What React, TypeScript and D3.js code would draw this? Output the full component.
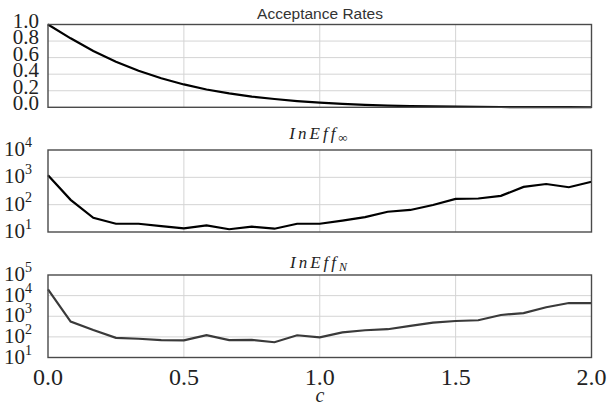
import React from "react";
import * as d3 from "d3";

const cValues = [0, 0.0833, 0.1667, 0.25, 0.3333, 0.4167, 0.5, 0.5833, 0.6667, 0.75, 0.8333, 0.9167, 1.0, 1.0833, 1.1667, 1.25, 1.3333, 1.4167, 1.5, 1.5833, 1.6667, 1.75, 1.8333, 1.9167, 2.0];
const acceptance = [1.0, 0.833, 0.68, 0.551, 0.442, 0.35, 0.276, 0.215, 0.168, 0.13, 0.1, 0.075, 0.056, 0.041, 0.03, 0.021, 0.015, 0.01, 0.007, 0.005, 0.0035, 0.0024, 0.0016, 0.001, 0.0007];
const ineffInf = [1200, 150, 33, 20, 20, 16.5, 13.6, 17.5, 12.6, 15.7, 13.2, 20, 20, 26, 35, 55, 64, 97, 162, 168, 210, 445, 570, 435, 690];
const ineffN = [20000, 550, 215, 90, 81, 70, 68, 120, 70, 72, 55, 120, 95, 166, 210, 235, 340, 490, 590, 640, 1150, 1430, 2720, 4400, 4300];

const xTicks = [0, 0.5, 1.0, 1.5, 2.0];
const accTicks = [0, 0.2, 0.4, 0.6, 0.8, 1.0];
const infTicks = [1, 2, 3, 4];
const nTicks = [1, 2, 3, 4, 5];

const W = 607, H = 408;
const L = 48, R = 591.5;
const serif = "'Liberation Serif', 'Times New Roman', serif";
const sans = "'Liberation Sans', Arial, sans-serif";

export default function App() {
  const x = d3.scaleLinear().domain([0, 2]).range([L, R]);
  const yA = d3.scaleLinear().domain([0, 1]).range([107.3, 24.5]);
  const yI = d3.scaleLog().domain([10, 1e4]).range([232, 150]);
  const yN = d3.scaleLog().domain([10, 1e5]).range([357.5, 275]);

  const lineA = d3.line<number>().x((_, i) => x(cValues[i])).y((d) => yA(d));
  const lineI = d3.line<number>().x((_, i) => x(cValues[i])).y((d) => yI(d));
  const lineN = d3.line<number>().x((_, i) => x(cValues[i])).y((d) => yN(d));

  const grid = "#d4d4d4";
  const frame = "#4a4a4a";

  const vgrid = (y0: number, y1: number) =>
    xTicks.slice(1, -1).map((t) => (
      <line key={"v" + t} x1={x(t)} x2={x(t)} y1={y0} y2={y1} stroke={grid} strokeWidth={1} />
    ));

  const panelFrame = (y0: number, y1: number) => (
    <rect x={L} y={y1} width={R - L} height={y0 - y1} fill="none" stroke={frame} strokeWidth={1.4} />
  );

  return (
    <svg width={W} height={H} style={{ position: "absolute", left: 0, top: 0, background: "#fff" }}>
      {/* Top panel */}
      <text x={320} y={19} textAnchor="middle" fontFamily={sans} fontSize={15.5} fill="#333">Acceptance Rates</text>
      {accTicks.slice(1, -1).map((t) => (
        <line key={"ha" + t} x1={L} x2={R} y1={yA(t)} y2={yA(t)} stroke={grid} strokeWidth={1} />
      ))}
      {vgrid(107.3, 24.5)}
      <path d={lineA(acceptance) || ""} fill="none" stroke="#000" strokeWidth={2.2} />
      {panelFrame(107.3, 24.5)}
      {accTicks.map((t) => (
        <text key={"la" + t} x={39} y={yA(t) + 3} textAnchor="end" fontFamily={serif} fontSize={21} fill="#222">{t.toFixed(1)}</text>
      ))}

      {/* Middle panel */}
      <text x={320} y={139} textAnchor="middle" fontFamily={serif} fontStyle="italic" fontSize={17} fill="#222" letterSpacing={3}>
        InEff<tspan fontSize={13} dy={3} fontStyle="normal">∞</tspan>
      </text>
      {infTicks.slice(1, -1).map((t) => (
        <line key={"hi" + t} x1={L} x2={R} y1={yI(Math.pow(10, t))} y2={yI(Math.pow(10, t))} stroke={grid} strokeWidth={1} />
      ))}
      {vgrid(232, 150)}
      <path d={lineI(ineffInf) || ""} fill="none" stroke="#000" strokeWidth={2.2} />
      {panelFrame(232, 150)}
      {infTicks.map((t) => (
        <text key={"li" + t} x={32} y={yI(Math.pow(10, t)) + 6} textAnchor="end" fontFamily={serif} fontSize={21} fill="#222">
          10<tspan fontSize={14} dy={-9}>{t}</tspan>
        </text>
      ))}

      {/* Bottom panel */}
      <text x={320} y={268} textAnchor="middle" fontFamily={serif} fontStyle="italic" fontSize={17} fill="#222" letterSpacing={3}>
        InEff<tspan fontSize={12} dy={3}>N</tspan>
      </text>
      {nTicks.slice(1, -1).map((t) => (
        <line key={"hn" + t} x1={L} x2={R} y1={yN(Math.pow(10, t))} y2={yN(Math.pow(10, t))} stroke={grid} strokeWidth={1} />
      ))}
      {vgrid(357.5, 275)}
      <path d={lineN(ineffN) || ""} fill="none" stroke="#3a3a3a" strokeWidth={2.2} />
      {panelFrame(357.5, 275)}
      {nTicks.map((t) => (
        <text key={"ln" + t} x={32} y={yN(Math.pow(10, t)) + 6} textAnchor="end" fontFamily={serif} fontSize={21} fill="#222">
          10<tspan fontSize={14} dy={-9}>{t}</tspan>
        </text>
      ))}

      {/* X axis */}
      {xTicks.map((t) => (
        <text key={"x" + t} x={x(t)} y={385} textAnchor="middle" fontFamily={serif} fontSize={24} fill="#222">{t.toFixed(1)}</text>
      ))}
      <text x={320} y={402} textAnchor="middle" fontFamily={serif} fontStyle="italic" fontSize={20} fill="#222">c</text>
    </svg>
  );
}
